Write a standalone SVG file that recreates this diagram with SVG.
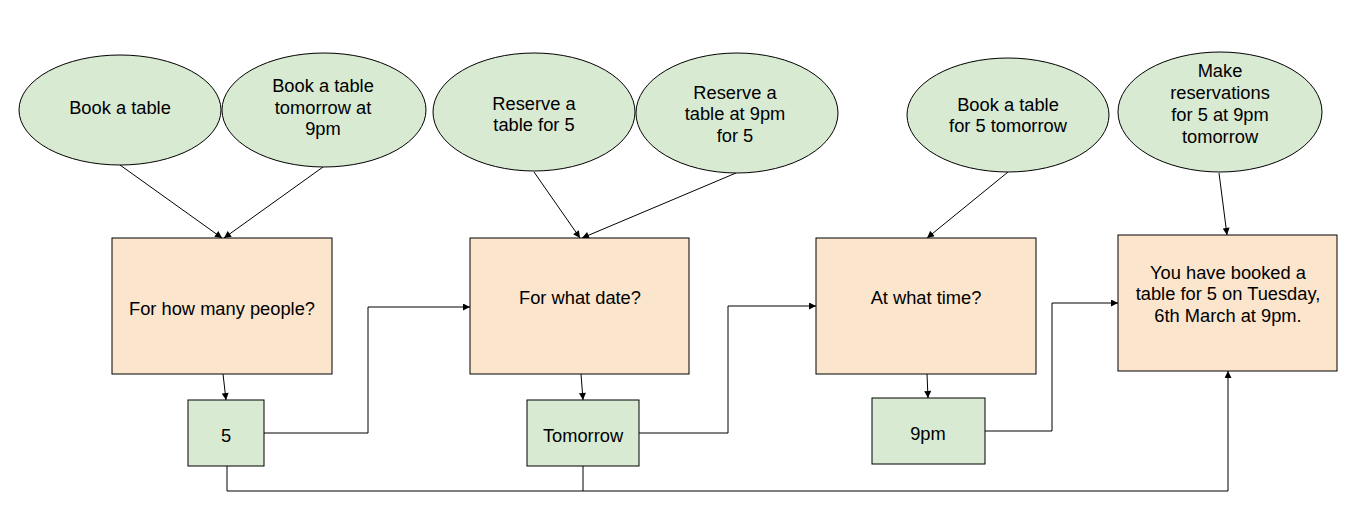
<svg xmlns="http://www.w3.org/2000/svg" width="1345" height="505" viewBox="0 0 1345 505">
<style>
.ell{fill:#d9ead3;stroke:#000;stroke-width:1}
.ans{fill:#d9ead3;stroke:#000;stroke-width:1}
.box{fill:#fce5cd;stroke:#000;stroke-width:1}
text{font-family:"Liberation Sans",Arial,sans-serif;font-size:18.3px;fill:#000;text-anchor:middle}
.c{fill:none;stroke:#000;stroke-width:1}
</style>
<defs>
<marker id="ah" viewBox="0 0 10 10" refX="10" refY="5" markerWidth="8" markerHeight="7" markerUnits="userSpaceOnUse" orient="auto">
<path d="M0,0 L10,5 L0,10 z" fill="#000"/>
</marker>
</defs>
<rect width="1345" height="505" fill="#fff"/>
<g id="connectors">
<line class="c" x1="120" y1="165" x2="222" y2="238" marker-end="url(#ah)"/>
<line class="c" x1="323" y1="167" x2="224" y2="238" marker-end="url(#ah)"/>
<line class="c" x1="534" y1="172" x2="580" y2="238" marker-end="url(#ah)"/>
<line class="c" x1="736" y1="173" x2="582" y2="238" marker-end="url(#ah)"/>
<line class="c" x1="1008" y1="172" x2="927" y2="238" marker-end="url(#ah)"/>
<line class="c" x1="1219" y1="173" x2="1227" y2="235" marker-end="url(#ah)"/>
<line class="c" x1="223" y1="374" x2="226" y2="400" marker-end="url(#ah)"/>
<line class="c" x1="581" y1="374" x2="583" y2="400" marker-end="url(#ah)"/>
<line class="c" x1="927" y1="374" x2="928" y2="398" marker-end="url(#ah)"/>
<polyline class="c" points="264,433 368,433 368,307 470,307" marker-end="url(#ah)"/>
<polyline class="c" points="639,433 728,433 728,306 816,306" marker-end="url(#ah)"/>
<polyline class="c" points="985,431 1052,431 1052,303 1118,303" marker-end="url(#ah)"/>
<polyline class="c" points="227,466 227,491 1228,491 1228,371" marker-end="url(#ah)"/>
<line class="c" x1="583" y1="466" x2="583" y2="491"/>
</g>
<g id="q1"><ellipse class="ell" cx="120" cy="110" rx="101" ry="55"/><text x="120" y="113.5">Book a table</text></g>
<g id="q2"><ellipse class="ell" cx="324" cy="110" rx="102" ry="57"/><text x="323" y="91.5">Book a table</text><text x="323" y="113.5">tomorrow at</text><text x="323" y="134.5">9pm</text></g>
<g id="q3"><ellipse class="ell" cx="534" cy="112" rx="101" ry="59"/><text x="534" y="109.5">Reserve a</text><text x="534" y="130.5">table for 5</text></g>
<g id="q4"><ellipse class="ell" cx="737" cy="113" rx="101" ry="60"/><text x="735" y="98.5">Reserve a</text><text x="735" y="119.5">table at 9pm</text><text x="735" y="141.5">for 5</text></g>
<g id="q5"><ellipse class="ell" cx="1008" cy="115" rx="101" ry="57"/><text x="1008" y="110.5">Book a table</text><text x="1008" y="131.5">for 5 tomorrow</text></g>
<g id="q6"><ellipse class="ell" cx="1220" cy="112" rx="102" ry="60"/><text x="1220" y="76.5">Make</text><text x="1220" y="98.5">reservations</text><text x="1220" y="120.5">for 5 at 9pm</text><text x="1220" y="142.5">tomorrow</text></g>
<g id="b1"><rect class="box" x="112" y="238" width="220" height="136"/><text x="222" y="314.5">For how many people?</text></g>
<g id="b2"><rect class="box" x="470" y="238" width="219" height="136"/><text x="580" y="303.5">For what date?</text></g>
<g id="b3"><rect class="box" x="816" y="238" width="220" height="136"/><text x="926" y="303.5">At what time?</text></g>
<g id="b4"><rect class="box" x="1118" y="235" width="219" height="136"/><text x="1228" y="278.5">You have booked a</text><text x="1228" y="299.5">table for 5 on Tuesday,</text><text x="1228" y="321.5">6th March at 9pm.</text></g>
<g id="a1"><rect class="ans" x="188" y="400" width="76" height="66"/><text x="226" y="441.5">5</text></g>
<g id="a2"><rect class="ans" x="527" y="400" width="112" height="66"/><text x="583" y="441.5">Tomorrow</text></g>
<g id="a3"><rect class="ans" x="872" y="398" width="113" height="66"/><text x="928" y="439.5">9pm</text></g>
</svg>
